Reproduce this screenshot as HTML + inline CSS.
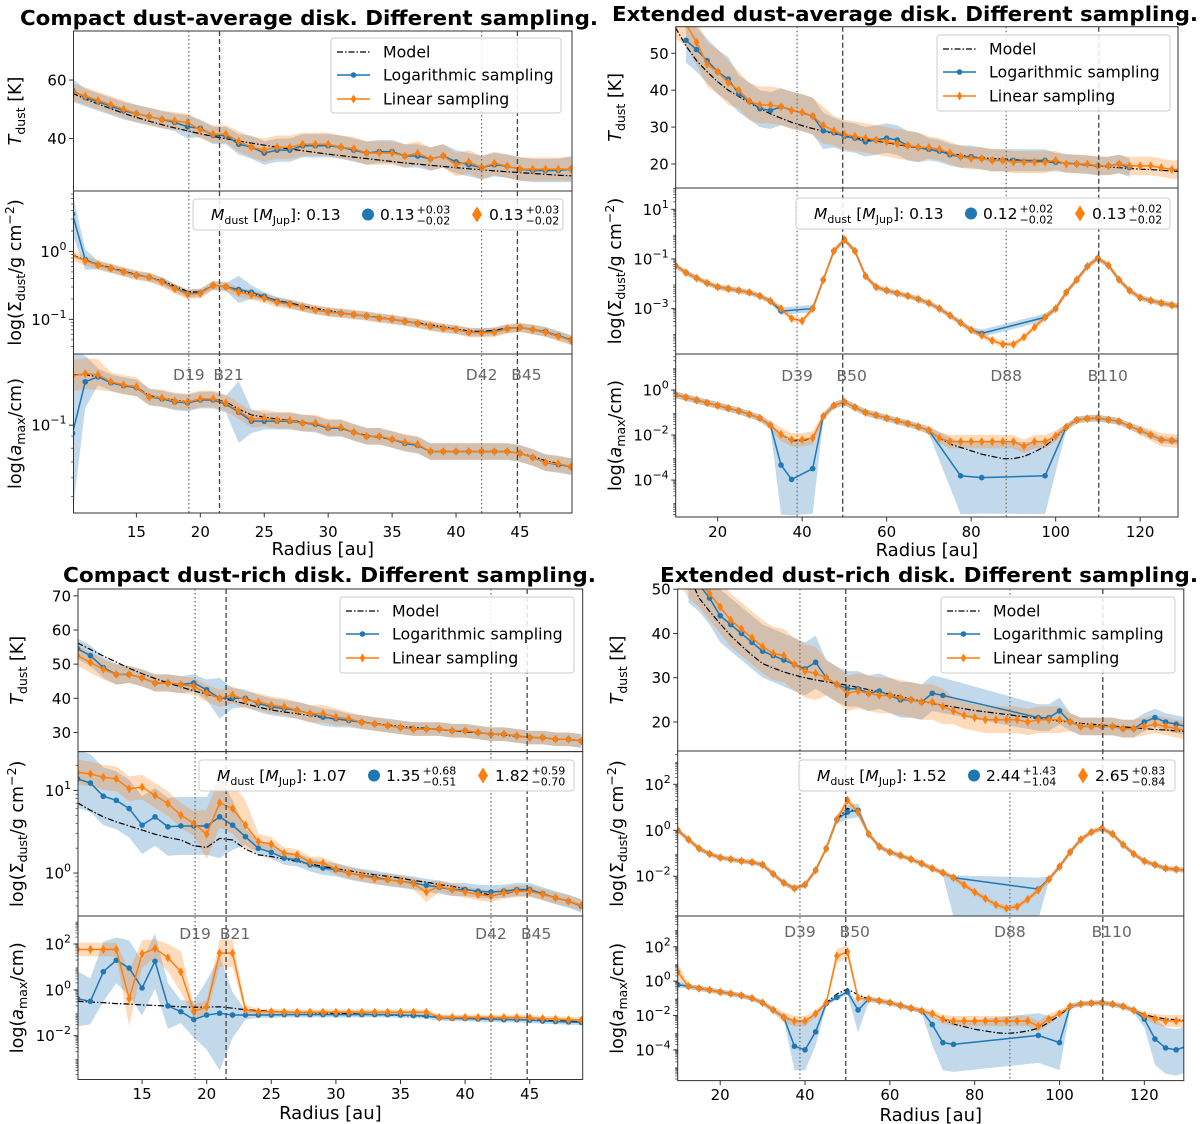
<!DOCTYPE html>
<html>
<head>
<meta charset="utf-8">
<style>
body{margin:0;background:#fff;}
svg{display:block;font-family:"DejaVu Sans","Liberation Sans",sans-serif;}
</style>
</head>
<body>
<svg id="fig" width="1200" height="1124" viewBox="0 0 1200 1124" xmlns="http://www.w3.org/2000/svg">
<rect x="0" y="0" width="1200" height="1124" fill="#fff"/>
</svg>
<script>
// ---------------- DATA ----------------
const compactR = [10,11,12,13,14,15,16,17,18,19,20,21,22,23,24,25,26,27,28,29,30,31,32,33,34,35,36,37,38,39,40,41,42,43,44,45,46,47,48,49];
const extendedR = [10,12.5,15,17.5,20,22.5,25,27.5,30,32.5,35,37.5,40,42.5,45,47.5,50,52.5,55,57.5,60,62.5,65,67.5,70,72.5,75,77.5,80,82.5,85,87.5,90,92.5,95,97.5,100,102.5,105,107.5,110,112.5,115,117.5,120,122.5,125,127.5,130];
const compactRings = [19.1,21.5,42.0,44.8];
const compactRingNames = ["D19","B21","D42","B45"];
const extendedRings = [38.8,49.6,88.3,110.2];
const extendedRingNames = ["D39","B50","D88","B110"];
const compactXTicks = [15,20,25,30,35,40,45];
const extendedXTicks = [20,40,60,80,100,120];

// ---- Top-left: compact dust-average ----
const tlTModel = [55.5,53.5,51.8,50.2,48.6,47.2,45.9,44.7,43.6,42.6,41.6,40.7,39.9,39.1,38.4,37.7,37.0,36.4,35.8,35.2,34.6,34.1,33.6,33.1,32.6,32.1,31.6,31.2,30.8,30.4,30.0,29.6,29.3,28.9,28.6,28.3,28.0,27.7,27.4,27.2];
const tlTLog = [56.5,54,52.5,51,49.5,48.5,47.5,46.5,45.5,44,43.5,41,41,38,37,35,36,36,37.5,37.5,37.5,37,36,35,35.5,35.5,34,34,33,34,32,31,30,31,30.5,29.5,29,29,29,29.5];
const tlTLin = [56,54.5,53,51.5,50,48.5,47.5,46.5,46,45.5,43,41.5,41.5,39,37,36,37,37,38,38,38,37,36.5,35,35,35,34,35,33,34,31,32,30,31.5,30.5,29.5,29.5,29.5,29.5,29.5];
const tlTErrLog = [4,3,3,3,3,3,3,3,3,4,3,3,3,3.5,4,4,4,4,4,4,4,4,4,4,4,4,4,4,4,4,4,4,4,4,4,4,4,4,4,4.5];
const tlTErrLin = [3,3,3,3,3,3,3,3,3,3,3,3,3,3.5,3.5,4,4,4,4,4,4,4,4,4,4,4,4,4,4,4,4,4,4,4,4,4,4,4,4,4];
const tlSModel = [-0.05,-0.13,-0.19,-0.24,-0.29,-0.34,-0.38,-0.43,-0.51,-0.59,-0.6,-0.5,-0.52,-0.57,-0.62,-0.67,-0.72,-0.76,-0.8,-0.84,-0.87,-0.9,-0.93,-0.95,-0.97,-1.0,-1.03,-1.05,-1.08,-1.11,-1.14,-1.17,-1.18,-1.16,-1.13,-1.12,-1.15,-1.2,-1.25,-1.3];
const tlSLog = [0.55,-0.12,-0.2,-0.25,-0.3,-0.35,-0.38,-0.44,-0.54,-0.62,-0.61,-0.5,-0.52,-0.56,-0.6,-0.66,-0.73,-0.77,-0.82,-0.86,-0.89,-0.91,-0.93,-0.95,-0.98,-1.0,-1.03,-1.06,-1.1,-1.13,-1.15,-1.19,-1.19,-1.18,-1.14,-1.12,-1.15,-1.18,-1.24,-1.3];
const tlSLin = [-0.06,-0.14,-0.2,-0.25,-0.3,-0.35,-0.38,-0.45,-0.55,-0.63,-0.62,-0.5,-0.52,-0.6,-0.64,-0.69,-0.75,-0.78,-0.82,-0.86,-0.89,-0.91,-0.93,-0.95,-0.98,-1.0,-1.03,-1.06,-1.1,-1.13,-1.15,-1.19,-1.2,-1.19,-1.14,-1.12,-1.15,-1.19,-1.25,-1.31];
const tlSErrLog = [0.3,0.15,0.06,0.06,0.06,0.06,0.06,0.06,0.06,0.06,0.06,0.06,0.06,0.2,0.1,0.06,0.06,0.06,0.06,0.06,0.06,0.06,0.06,0.06,0.06,0.06,0.06,0.06,0.06,0.06,0.06,0.06,0.06,0.06,0.06,0.06,0.07,0.07,0.07,0.07];
const tlSErrLin = [0.07,0.07,0.07,0.07,0.07,0.07,0.07,0.07,0.07,0.07,0.07,0.07,0.07,0.07,0.07,0.07,0.07,0.07,0.07,0.07,0.07,0.07,0.07,0.07,0.07,0.07,0.07,0.07,0.07,0.07,0.07,0.07,0.07,0.07,0.07,0.07,0.07,0.07,0.07,0.07];
const tlAModel = [-0.787,-0.787,-0.796,-0.817,-0.830,-0.838,-0.876,-0.885,-0.894,-0.902,-0.894,-0.889,-0.902,-0.932,-0.957,-0.966,-0.974,-0.979,-0.987,-0.996,-1.009,-1.013,-1.030,-1.043,-1.051,-1.060,-1.072,-1.085,-1.111,-1.111,-1.111,-1.111,-1.111,-1.111,-1.111,-1.119,-1.132,-1.149,-1.162,-1.175];
const tlALog = [-1.034,-0.817,-0.796,-0.821,-0.834,-0.842,-0.881,-0.889,-0.902,-0.906,-0.894,-0.894,-0.911,-0.945,-0.983,-0.983,-0.983,-0.983,-0.991,-0.996,-1.013,-1.013,-1.030,-1.047,-1.047,-1.060,-1.077,-1.085,-1.111,-1.111,-1.111,-1.111,-1.111,-1.111,-1.111,-1.119,-1.136,-1.158,-1.166,-1.175];
const tlALin = [-0.791,-0.783,-0.787,-0.817,-0.830,-0.838,-0.881,-0.885,-0.898,-0.902,-0.889,-0.889,-0.906,-0.940,-0.974,-0.970,-0.979,-0.979,-0.991,-0.991,-1.009,-1.009,-1.030,-1.047,-1.047,-1.060,-1.072,-1.081,-1.111,-1.111,-1.111,-1.111,-1.111,-1.111,-1.111,-1.119,-1.136,-1.158,-1.162,-1.175];
const tlAErrLog = [0.34,0.11,0.035,0.035,0.035,0.035,0.035,0.035,0.035,0.035,0.035,0.035,0.035,0.13,0.05,0.035,0.035,0.035,0.035,0.035,0.035,0.035,0.035,0.035,0.035,0.035,0.035,0.035,0.035,0.035,0.035,0.035,0.035,0.035,0.035,0.035,0.035,0.035,0.035,0.035];
const tlAErrLin = [0.065,0.065,0.065,0.04,0.04,0.04,0.035,0.035,0.035,0.035,0.035,0.035,0.035,0.035,0.035,0.035,0.035,0.035,0.035,0.035,0.035,0.035,0.035,0.035,0.035,0.035,0.035,0.035,0.035,0.035,0.035,0.035,0.035,0.035,0.035,0.035,0.035,0.035,0.035,0.035];

// ---- Top-right: extended dust-average ----
const trTModel = [57,52,48,45,42.3,40,38.3,36.6,35,33.6,32.4,31.3,30.4,29.6,28.9,28.2,27.6,27.1,26.6,26.2,25.8,25.3,24.8,24.4,23.9,23.4,22.9,22.4,21.9,21.7,21.5,21.4,21.2,21,20.8,20.6,20.5,20.2,20,19.7,19.5,19.2,19,18.8,18.6,18.5,18.3,18.1,18];
const trTLog = [null,53.5,51,48,45,43,39,37,35,34.5,35.5,null,null,33,29,28.5,27.5,27,26,26.5,27,26.5,25,24.5,24,23.5,22.5,22,22,21.5,21,21,21,null,null,21,20.5,null,20,null,19.5,19.5,20,19,null,null,null,null,null];
const trTLin = [60,58,53,47,45,42,40,37,36,36,35.5,34.5,34,33,30.5,29,28,27.5,27,26.5,26,25.5,25,24.5,24.5,24,23,22,21.5,21.5,21,21,20.5,20.5,20.5,20.5,21,20,20,20,19.5,19.5,20,19.5,19.5,19.5,19,18.5,18.5];
const trTErrLog = [6,6,6,6,6,6,5,5,5,5,5,5,5,5,5,4,4,4,4,4,4,4,4,4,3,3,3,3,3,3,3,3,3,3,3,3,2.5,2.5,2.5,2.5,2.5,2.5,2.5,2.5,2.5,2.5,2.5,2.5,2.5];
const trTErrLin = [6,6,6,6,6,6,5,5,5,5,5,5,5,5,5,4,4,4,4,4,4,4,4,4,3,3,3,3,3,3,3,3,3,3,3,3,2.5,2.5,2.5,2.5,2.5,2.5,2.5,2.5,2.5,2.5,2.5,2.5,2.5];
const trSModel = [-1.26,-1.55,-1.77,-1.97,-2.13,-2.2,-2.27,-2.35,-2.49,-2.7,-3.0,-3.4,-3.5,-3.0,-1.84,-0.68,-0.22,-0.68,-1.69,-2.13,-2.27,-2.38,-2.49,-2.62,-2.78,-3.0,-3.28,-3.57,-3.86,-4.08,-4.29,-4.44,-4.44,-4.15,-3.75,-3.35,-3.0,-2.35,-1.84,-1.3,-0.97,-1.26,-1.84,-2.27,-2.56,-2.68,-2.78,-2.86,-2.93];
const trSLog = [-1.26,-1.55,-1.77,-1.97,-2.13,-2.2,-2.27,-2.35,-2.49,-2.7,-3.1,null,null,-3.0,-1.84,-0.68,-0.22,-0.68,-1.69,-2.13,-2.27,-2.38,-2.49,-2.62,-2.78,-3.0,-3.28,-3.57,-3.86,-4.0,null,null,null,null,null,-3.35,-3.0,-2.35,-1.84,-1.3,-0.97,-1.26,-1.84,-2.27,-2.56,-2.68,-2.78,-2.86,-2.93];
const trSLin = [-1.26,-1.55,-1.77,-1.97,-2.13,-2.2,-2.27,-2.35,-2.49,-2.7,-3.0,-3.4,-3.5,-3.0,-1.84,-0.68,-0.22,-0.68,-1.69,-2.13,-2.27,-2.38,-2.49,-2.62,-2.78,-3.0,-3.28,-3.57,-3.86,-4.08,-4.29,-4.44,-4.44,-4.15,-3.75,-3.35,-3.0,-2.35,-1.84,-1.3,-0.97,-1.26,-1.84,-2.27,-2.56,-2.68,-2.78,-2.86,-2.93];
const trSErrLog = [0.1,0.1,0.1,0.1,0.1,0.1,0.1,0.1,0.1,0.1,0.15,0.15,0.15,0.15,0.1,0.1,0.1,0.1,0.1,0.1,0.1,0.1,0.1,0.1,0.1,0.1,0.1,0.1,0.12,0.15,0.15,0.15,0.15,0.15,0.15,0.15,0.1,0.1,0.1,0.1,0.1,0.1,0.1,0.1,0.1,0.1,0.1,0.1,0.1];
const trSErrLin = [0.12,0.12,0.12,0.12,0.12,0.12,0.12,0.12,0.12,0.12,0.12,0.12,0.12,0.12,0.12,0.12,0.12,0.12,0.12,0.12,0.12,0.12,0.12,0.12,0.12,0.12,0.12,0.12,0.12,0.12,0.12,0.12,0.12,0.12,0.12,0.12,0.12,0.12,0.12,0.12,0.12,0.12,0.12,0.12,0.12,0.12,0.12,0.12,0.12];
const trAModel = [-0.21,-0.33,-0.45,-0.57,-0.69,-0.81,-0.93,-1.08,-1.25,-1.57,-1.97,-2.25,-2.25,-2.13,-1.17,-0.69,-0.53,-0.77,-1.0,-1.12,-1.25,-1.37,-1.49,-1.63,-1.8,-2.13,-2.4,-2.55,-2.7,-2.85,-2.95,-3.05,-3.05,-2.95,-2.75,-2.5,-2.1,-1.65,-1.33,-1.27,-1.25,-1.32,-1.4,-1.6,-1.8,-2.0,-2.21,-2.25,-2.29];
const trALog = [-0.21,-0.33,-0.45,-0.57,-0.69,-0.81,-0.93,-1.08,-1.25,-1.57,-3.33,-3.97,null,-3.49,-1.17,-0.69,-0.53,-0.77,-1.0,-1.12,-1.25,-1.37,-1.49,-1.63,-1.8,null,null,-3.81,null,-3.89,null,null,null,null,null,-3.81,null,-1.65,-1.33,-1.27,-1.25,-1.32,-1.4,-1.6,-1.8,-2.0,-2.21,-2.25,-2.29];
const trALin = [-0.21,-0.33,-0.45,-0.57,-0.69,-0.81,-0.93,-1.08,-1.25,-1.57,-1.97,-2.21,-2.21,-2.13,-1.17,-0.69,-0.53,-0.77,-1.0,-1.12,-1.25,-1.37,-1.49,-1.63,-1.8,-2.13,-2.29,-2.29,-2.29,-2.29,-2.29,-2.29,-2.29,-2.5,-2.29,-2.29,-2.05,-1.65,-1.33,-1.27,-1.25,-1.32,-1.4,-1.6,-1.8,-2.0,-2.21,-2.25,-2.29];
const trAErrLog = [0.15,0.15,0.15,0.15,0.15,0.15,0.15,0.15,0.15,0.15,2.2,1.6,0.15,2.0,0.15,0.15,0.15,0.15,0.15,0.15,0.15,0.15,0.15,0.15,0.15,0.15,0.15,1.7,0.15,1.6,0.15,0.15,0.15,0.15,0.15,1.7,0.15,0.15,0.15,0.15,0.15,0.15,0.15,0.15,0.15,0.15,0.15,0.15,0.15];
const trAErrLogHi = [0.15,0.15,0.15,0.15,0.15,0.15,0.15,0.15,0.15,0.15,1.3,1.7,0.15,1.3,0.15,0.15,0.15,0.15,0.15,0.15,0.15,0.15,0.15,0.15,0.15,0.15,0.15,1.5,0.15,1.6,0.15,0.15,0.15,0.15,0.15,1.5,0.15,0.15,0.15,0.15,0.15,0.15,0.15,0.15,0.15,0.15,0.15,0.15,0.15];
const trAErrLin = [0.15,0.15,0.15,0.15,0.15,0.15,0.15,0.15,0.15,0.2,0.3,0.3,0.3,0.3,0.15,0.15,0.15,0.15,0.15,0.15,0.15,0.15,0.15,0.15,0.2,0.25,0.3,0.3,0.3,0.3,0.3,0.3,0.3,0.3,0.3,0.3,0.25,0.15,0.15,0.15,0.15,0.15,0.15,0.15,0.2,0.25,0.3,0.3,0.3];

// ---- Bottom-left: compact dust-rich ----
const blTModel = [56.2,54.3,52.4,50.6,48.8,47.2,45.8,44.5,43.3,42.2,41.2,40.2,39.3,38.4,37.4,36.6,36,35.5,34.9,34.4,33.9,33.5,33.1,32.6,32.2,31.8,31.5,31.2,30.8,30.5,30.2,29.9,29.6,29.2,28.9,28.6,28.4,28.1,27.9,27.6];
const blTLog = [54.5,52.5,49,47,47,46,44.5,44.5,44,44.5,42.5,40,40,40,38.5,37.5,37,36.5,35.5,34.5,34,33.5,33,32.5,32,31.5,31,31,31,30.5,30.5,30,29.5,29.5,29,28.5,28.5,28,28,27.5];
const blTLin = [52.5,50.5,48.5,47,47,46,44.5,44.5,44,43.5,41.5,40,41,39.5,39,38,37.5,36.5,35.5,35.5,34.5,34,33,32.5,32,31.5,31,31,31,30.5,30.5,30,29.5,29.5,29,28.5,28.5,28,28,27.5];
const blTErrLog = [3,3,3,3,2.5,2.5,2.5,2.5,2.5,2.5,3,6,3,2.5,2.5,2.5,2.5,2.5,2.5,2.5,2.5,2,2,2,2,2,2,2,2,2,2,2,2,2,2,2,2,2,2,2];
const blTErrLin = [3,3,3,3,2.5,2.5,2.5,2.5,2.5,2.5,2.5,2.5,2.5,2.5,2.5,2.5,2.5,2.5,2.5,2.5,2.5,2,2,2,2,2,2,2,2,2,2,2,2,2,2,2,2,2,2,2];
const blSModel = [0.85,0.76,0.68,0.62,0.57,0.52,0.47,0.43,0.4,0.33,0.31,0.42,0.4,0.29,0.22,0.2,0.17,0.14,0.11,0.08,0.05,0.03,0.0,-0.02,-0.04,-0.06,-0.09,-0.11,-0.14,-0.16,-0.19,-0.23,-0.27,-0.25,-0.22,-0.21,-0.25,-0.3,-0.34,-0.39];
const blSLog = [1.14,1.09,0.93,0.88,0.78,0.58,0.68,0.56,0.57,0.57,0.57,0.68,0.58,0.44,0.3,0.25,0.18,0.16,0.1,0.06,0.04,0.0,-0.03,-0.05,-0.08,-0.1,-0.12,-0.15,-0.17,-0.2,-0.2,-0.22,-0.23,-0.22,-0.2,-0.2,-0.25,-0.3,-0.34,-0.4];
const blSLin = [1.22,1.2,1.16,1.14,1.02,1.04,0.94,0.84,0.7,0.6,0.47,0.85,0.78,0.58,0.38,0.35,0.24,0.22,0.13,0.12,0.05,0.0,-0.03,-0.07,-0.08,-0.1,-0.13,-0.23,-0.16,-0.2,-0.23,-0.26,-0.28,-0.24,-0.22,-0.22,-0.26,-0.3,-0.34,-0.39];
const blSErrLog = [0.35,0.35,0.35,0.35,0.35,0.35,0.35,0.35,0.35,0.35,0.35,0.5,0.3,0.1,0.08,0.08,0.08,0.08,0.08,0.08,0.08,0.08,0.08,0.08,0.08,0.08,0.08,0.08,0.08,0.08,0.08,0.08,0.08,0.08,0.08,0.08,0.08,0.08,0.08,0.08];
const blSErrLin = [0.15,0.15,0.15,0.15,0.15,0.15,0.15,0.15,0.15,0.15,0.3,0.3,0.3,0.3,0.1,0.08,0.07,0.07,0.07,0.07,0.07,0.07,0.07,0.07,0.07,0.07,0.07,0.12,0.07,0.07,0.07,0.07,0.07,0.07,0.07,0.07,0.07,0.07,0.07,0.07];
const blAModel = [-0.5,-0.53,-0.56,-0.6,-0.62,-0.66,-0.68,-0.71,-0.74,-0.76,-0.75,-0.74,-0.8,-0.87,-0.9,-0.94,-0.96,-0.98,-1.0,-1.01,-1.02,-1.04,-1.06,-1.08,-1.1,-1.12,-1.14,-1.16,-1.19,-1.21,-1.23,-1.25,-1.27,-1.28,-1.3,-1.31,-1.33,-1.35,-1.37,-1.39];
const blALog = [-0.39,-0.5,0.79,1.29,0.95,0.08,1.25,-0.7,-0.95,-1.29,-1.1,-1.02,-1.1,-1.1,-1.1,-1.1,-1.08,-1.08,-1.08,-1.08,-1.08,-1.08,-1.08,-1.08,-1.08,-1.1,-1.12,-1.14,-1.22,-1.24,-1.25,-1.27,-1.28,-1.3,-1.3,-1.32,-1.36,-1.38,-1.4,-1.42];
const blALin = [1.76,1.76,1.76,1.76,-0.39,1.57,1.8,1.4,0.79,-0.94,-0.75,1.6,1.6,-0.88,-0.95,-0.95,-0.97,-0.97,-0.97,-0.97,-0.97,-0.97,-0.97,-0.97,-0.97,-0.97,-0.97,-0.97,-1.2,-1.2,-1.2,-1.2,-1.2,-1.2,-1.2,-1.22,-1.25,-1.27,-1.3,-1.32];
const blAErrLog = [1.2,1.0,1.3,1.0,1.2,1.2,1.2,1.0,0.5,0.8,1.5,2.5,1.0,0.2,0.12,0.12,0.12,0.12,0.12,0.12,0.12,0.12,0.12,0.12,0.12,0.12,0.12,0.12,0.12,0.12,0.12,0.12,0.12,0.12,0.12,0.12,0.12,0.12,0.12,0.12];
const blAErrLin = [0.3,0.3,0.3,0.3,1.2,0.6,0.4,0.6,0.9,0.3,0.3,0.6,0.6,0.2,0.12,0.12,0.12,0.12,0.12,0.12,0.12,0.12,0.12,0.12,0.12,0.12,0.12,0.12,0.12,0.12,0.12,0.12,0.12,0.12,0.12,0.12,0.12,0.12,0.12,0.12];

// ---- Bottom-right: extended dust-rich ----
const brTModel = [60,53.5,48,45,42.2,39.5,37.2,35.1,33.2,32.2,31.3,30.6,30,29.5,29.1,28.7,28.3,27.8,27.3,26.8,26.3,25.8,25.2,24.7,24.2,23.8,23.4,23,22.6,22.3,22,21.7,21.4,21.1,20.8,20.5,20.2,20,19.7,19.5,19.3,19.1,18.9,18.7,18.5,18.3,18.2,18,17.9];
const brTLog = [null,53,51,48,44,42,40,38,36,35,34,33,32,33.5,30,28.5,27.5,27.5,26.5,27,26,25,25,24.5,26.5,26,null,null,null,null,null,null,null,null,21,21,22.5,20,19,19,19,19,18.5,18.5,20,21,20,19.5,19];
const brTLin = [58,54,52,49,46,43,41,39,37,35.5,35,33,31.5,31,30,28.5,26.5,27,26.5,26,26,25.5,25,24.5,24.5,23.5,22.5,21.5,21,20.5,20.5,20.5,20.5,20,20.5,20.5,20.5,20,19,19,19,19,18.5,18.5,19,19.5,19,18.5,18];
const brTErrLog = [6,6,6,6,6,6,6,6,6,6,6,6,6,6,4,4,4,4,4,4,4,4,4,4,4,4,3,3,3,3,3,3,3,3,3,3,3,2,2,2,2,2,2,2,2,2,2,2,2];
const brTErrLin = [6,6,6,6,6,6,6,6,6,6,6,6,6,6,4,4,4,4,4,4,4,4,4,4,4,4,3,3,3,3,3,3,3,3,3,3,3,2,2,2,2,2,2,2,2,2,2,2,2];
const brSModel = [0,-0.4,-0.79,-1.03,-1.19,-1.26,-1.34,-1.39,-1.5,-1.9,-2.29,-2.53,-2.37,-1.74,-0.79,0.47,0.95,0.79,-0.16,-0.71,-0.95,-1.1,-1.26,-1.45,-1.66,-1.85,-2.06,-2.38,-2.69,-2.97,-3.24,-3.4,-3.32,-3.0,-2.61,-2.13,-1.58,-0.95,-0.4,-0.08,0.08,-0.16,-0.63,-1.03,-1.34,-1.5,-1.66,-1.7,-1.74];
const brSLog = [0,-0.4,-0.79,-1.03,-1.19,-1.26,-1.34,-1.39,-1.5,-1.9,-2.29,-2.53,-2.37,-1.74,-0.79,0.47,0.79,0.87,-0.16,-0.71,-0.95,-1.1,-1.26,-1.45,-1.66,-1.85,-2.06,null,null,null,null,null,null,null,-2.56,-2.13,-1.58,-0.95,-0.4,-0.08,0.08,-0.16,-0.63,-1.03,-1.34,-1.5,-1.66,-1.7,-1.74];
const brSLin = [0,-0.4,-0.79,-1.03,-1.19,-1.26,-1.34,-1.39,-1.5,-1.9,-2.29,-2.53,-2.37,-1.74,-0.79,0.47,1.3,0.79,-0.16,-0.71,-0.95,-1.1,-1.26,-1.45,-1.66,-1.85,-2.06,-2.38,-2.69,-2.97,-3.24,-3.4,-3.32,-3.0,-2.61,-2.13,-1.58,-0.95,-0.4,-0.08,0.08,-0.16,-0.63,-1.03,-1.34,-1.5,-1.66,-1.7,-1.74];
const brSErrLog = [0.1,0.1,0.1,0.1,0.1,0.1,0.1,0.1,0.1,0.1,0.1,0.1,0.1,0.1,0.1,0.2,0.3,0.3,0.1,0.1,0.1,0.1,0.1,0.1,0.1,0.1,1.7,0.1,0.1,0.1,0.1,0.1,0.1,0.1,1.3,0.1,0.1,0.1,0.1,0.1,0.1,0.1,0.1,0.1,0.1,0.1,0.1,0.1,0.1];
const brSErrLogHi = [0.1,0.1,0.1,0.1,0.1,0.1,0.1,0.1,0.1,0.1,0.1,0.1,0.1,0.1,0.1,0.2,0.3,0.3,0.1,0.1,0.1,0.1,0.1,0.1,0.1,0.1,0.1,0.1,0.1,0.1,0.1,0.1,0.1,0.1,0.5,0.1,0.1,0.1,0.1,0.1,0.1,0.1,0.1,0.1,0.1,0.1,0.1,0.1,0.1];
const brSErrLin = [0.12,0.12,0.12,0.12,0.12,0.12,0.12,0.12,0.12,0.12,0.12,0.12,0.12,0.12,0.12,0.15,0.2,0.15,0.12,0.12,0.12,0.12,0.12,0.12,0.12,0.12,0.12,0.12,0.12,0.12,0.12,0.12,0.12,0.12,0.12,0.12,0.12,0.12,0.12,0.12,0.12,0.12,0.12,0.12,0.12,0.12,0.12,0.12,0.12];
const brAModel = [-0.21,-0.3,-0.42,-0.52,-0.63,-0.73,-0.84,-1.0,-1.26,-1.68,-2.1,-2.32,-2.32,-1.89,-1.26,-0.75,-0.45,-0.8,-1.05,-1.15,-1.26,-1.42,-1.58,-1.73,-1.89,-2.21,-2.5,-2.65,-2.8,-2.9,-3.0,-3.05,-3.0,-2.9,-2.75,-2.4,-2.0,-1.47,-1.33,-1.28,-1.26,-1.35,-1.47,-1.7,-1.95,-2.1,-2.2,-2.25,-2.3];
const brALog = [-0.21,-0.3,-0.42,-0.52,-0.63,-0.73,-0.84,-1.0,-1.26,-1.68,-2.1,-3.79,-4.0,-2.95,-1.3,-0.95,-0.63,-1.68,-1.05,-1.15,-1.26,-1.42,-1.58,-1.73,-2.53,-3.58,-3.68,null,null,null,null,null,null,null,-3.16,null,-3.58,-1.47,-1.33,-1.28,-1.26,-1.35,-1.47,-1.7,-2.21,-3.37,-3.89,-4.0,-3.79];
const brALin = [0.53,-0.3,-0.42,-0.52,-0.63,-0.73,-0.84,-1.0,-1.26,-1.68,-2.1,-2.32,-2.32,-1.89,-1.26,1.47,1.7,-1.0,-1.05,-1.15,-1.26,-1.42,-1.58,-1.73,-1.89,-2.21,-2.32,-2.32,-2.32,-2.32,-2.32,-2.32,-2.32,-2.32,-2.63,-2.21,-1.89,-1.47,-1.33,-1.28,-1.26,-1.35,-1.47,-1.7,-2.0,-2.2,-2.32,-2.32,-2.32];
const brAErrLog = [0.15,0.15,0.15,0.15,0.15,0.15,0.15,0.15,0.15,0.15,0.15,1.4,1.2,0.8,0.15,0.15,0.15,1.3,0.15,0.15,0.15,0.15,0.15,0.15,1.2,1.6,1.6,0.15,0.15,0.15,0.15,0.15,0.15,0.15,1.6,0.15,1.6,0.15,0.15,0.15,0.15,0.15,0.15,0.15,0.5,1.5,1.5,1.5,1.5];
const brAErrLogHi = [0.15,0.15,0.15,0.15,0.15,0.15,0.15,0.15,0.15,0.15,0.15,1.5,1.7,1.0,0.15,0.15,0.15,0.4,0.15,0.15,0.15,0.15,0.15,0.15,0.5,1.3,1.3,0.15,0.15,0.15,0.15,0.15,0.15,0.15,1.3,0.15,1.4,0.15,0.15,0.15,0.15,0.15,0.15,0.15,0.3,1.2,1.2,1.2,1.2];
const brAErrLin = [0.5,0.15,0.15,0.15,0.15,0.15,0.15,0.15,0.15,0.2,0.3,0.3,0.3,0.2,0.15,0.4,0.4,0.15,0.15,0.15,0.15,0.15,0.15,0.15,0.2,0.25,0.3,0.3,0.3,0.3,0.3,0.3,0.3,0.3,0.3,0.3,0.2,0.15,0.15,0.15,0.15,0.15,0.15,0.15,0.2,0.3,0.35,0.35,0.35];

// mass legend values
const tlMass = ["0.13","0.13","+0.03","−0.02","0.13","+0.03","−0.02"];
const trMass = ["0.13","0.12","+0.02","−0.02","0.13","+0.02","−0.02"];
const blMass = ["1.07","1.35","+0.68","−0.51","1.82","+0.59","−0.70"];
const brMass = ["1.52","2.44","+1.43","−1.04","2.65","+0.83","−0.84"];

// ---------------- LAYOUT ----------------
const BLUE = "#1f77b4", ORANGE = "#ff7f0e";
const PANELS = [
 {key:"tl", title:"Compact dust-average disk. Different sampling.", tx:20, ty:25, tw:578,
  left:73.5, right:572, xDom:[10.08,49.07], X:compactR, xTicks:compactXTicks,
  rings:compactRings, ringNames:compactRingNames, ringLabelY:380, tickLabelY:537, xLabelY:555, yLabelX:21,
  legend:[331,38,230,75], mass:[193,199,370,31], massVals:tlMass,
  rows:[
   {top:31,bot:191,dom:[22,76.8],log:false,ticks:[40,60],kind:"T",m:tlTModel,b:tlTLog,o:tlTLin,eb:tlTErrLog,o_e:tlTErrLin},
   {top:191,bot:354,dom:[-1.51,0.89],log:true,ticks:[-1,0],kind:"S",m:tlSModel,b:tlSLog,o:tlSLin,eb:tlSErrLog,o_e:tlSErrLin},
   {top:354,bot:513,dom:[-1.37,-0.70],log:true,ticks:[-1],kind:"A",m:tlAModel,b:tlALog,o:tlALin,eb:tlAErrLog,o_e:tlAErrLin}
  ]},
 {key:"tr", title:"Extended dust-average disk. Different sampling.", tx:612, ty:21, tw:586,
  left:675.7, right:1178, xDom:[10.07,128.96], X:extendedR, xTicks:extendedXTicks,
  rings:extendedRings, ringNames:extendedRingNames, ringLabelY:381, tickLabelY:537, xLabelY:556, yLabelX:621,
  legend:[937,35,233,76], mass:[796,198,374,31], massVals:trMass,
  rows:[
   {top:26.7,bot:188,dom:[13.5,57.2],log:false,ticks:[20,30,40,50],kind:"T",m:trTModel,b:trTLog,o:trTLin,eb:trTErrLog,o_e:trTErrLin},
   {top:188,bot:354,dom:[-4.83,1.86],log:true,ticks:[-3,-1,1],kind:"S",m:trSModel,b:trSLog,o:trSLin,eb:trSErrLog,o_e:trSErrLin},
   {top:354,bot:517,dom:[-5.64,1.6],log:true,ticks:[-4,-2,0],kind:"A",m:trAModel,b:trALog,o:trALin,eb:trAErrLog,ebh:trAErrLogHi,o_e:trAErrLin}
  ]},
 {key:"bl", title:"Compact dust-rich disk. Different sampling.", tx:63, ty:582, tw:533,
  left:78, right:582.7, xDom:[10.04,49.1], X:compactR, xTicks:compactXTicks,
  rings:compactRings, ringNames:compactRingNames, ringLabelY:939, tickLabelY:1099, xLabelY:1119, yLabelX:23,
  legend:[340,597,234,76], mass:[199,760,375,31], massVals:blMass,
  rows:[
   {top:589,bot:751.6,dom:[24.4,72],log:false,ticks:[30,40,50,60,70],kind:"T",m:blTModel,b:blTLog,o:blTLin,eb:blTErrLog,o_e:blTErrLin},
   {top:751.6,bot:916,dom:[-0.52,1.47],log:true,ticks:[0,1],kind:"S",m:blSModel,b:blSLog,o:blSLin,eb:blSErrLog,o_e:blSErrLin},
   {top:916,bot:1079.5,dom:[-3.91,3.22],log:true,ticks:[-2,0,2],kind:"A",m:blAModel,b:blALog,o:blALin,eb:blAErrLog,o_e:blAErrLin}
  ]},
 {key:"br", title:"Extended dust-rich disk. Different sampling.", tx:660, ty:582, tw:538,
  left:677.7, right:1183.8, xDom:[9.98,129.3], X:extendedR, xTicks:extendedXTicks,
  rings:extendedRings, ringNames:extendedRingNames, ringLabelY:937, tickLabelY:1100, xLabelY:1121, yLabelX:623,
  legend:[941,597,234,76], mass:[799,760,376,31], massVals:brMass,
  rows:[
   {top:589,bot:751,dom:[13.45,50.05],log:false,ticks:[20,30,40,50],kind:"T",m:brTModel,b:brTLog,o:brTLin,eb:brTErrLog,o_e:brTErrLin},
   {top:751,bot:916,dom:[-3.73,3.45],log:true,ticks:[-2,0,2],kind:"S",m:brSModel,b:brSLog,o:brSLin,eb:brSErrLog,ebh:brSErrLogHi,o_e:brSErrLin},
   {top:916,bot:1080.6,dom:[-5.79,3.79],log:true,ticks:[-4,-2,0,2],kind:"A",m:brAModel,b:brALog,o:brALin,eb:brAErrLog,ebh:brAErrLogHi,o_e:brAErrLin}
  ]}
];

// ---------------- DRAWING ----------------
const NS = "http://www.w3.org/2000/svg";
const fig = document.getElementById("fig");
function mk(tag, attrs, parent){
  const e = document.createElementNS(NS, tag);
  for (const k in attrs) e.setAttribute(k, attrs[k]);
  (parent || fig).appendChild(e);
  return e;
}
function lin(d0,d1,p0,p1){ return v => p0 + (v-d0)/(d1-d0)*(p1-p0); }
function expStr(k){ return (k<0 ? "\u2212" : "") + Math.abs(k); }
let clipId = 0;

function drawPanel(P){
  const g = mk("g", {}, fig);
  
  
  const sx = lin(P.xDom[0], P.xDom[1], P.left, P.right);

  const title = mk("text", {x:P.tx, y:P.ty, "font-size":20, "font-weight":"bold", fill:"#000", textLength:P.tw, lengthAdjust:"spacingAndGlyphs"}, g);
  title.textContent = P.title;
  
  

  P.rows.forEach((R, ri) => {
    const rg = mk("g", {}, g);
    
    
    const sy = lin(R.dom[0], R.dom[1], R.bot, R.top);
    const cid = "clip" + (clipId++);
    const cp = mk("clipPath", {id:cid}, rg);
    mk("rect", {x:P.left, y:R.top, width:P.right-P.left, height:R.bot-R.top}, cp);
    const plot = mk("g", {"clip-path":"url(#"+cid+")"}, rg);

    const bandPath = (Y, lo, hi) => {
      const up = [], dn = [];
      for (let i=0;i<P.X.length;i++){
        if (Y[i]===null || Y[i]===undefined) continue;
        up.push(sx(P.X[i]).toFixed(2)+","+sy(Y[i]+hi[i]).toFixed(2));
        dn.push(sx(P.X[i]).toFixed(2)+","+sy(Y[i]-lo[i]).toFixed(2));
      }
      return "M" + up.join(" L") + " L" + dn.reverse().join(" L") + " Z";
    };
    const bb = mk("path", {d:bandPath(R.b, R.eb, R.ebh || R.eb), fill:BLUE, "fill-opacity":0.28, stroke:"none"}, plot);
    
    
    const ob = mk("path", {d:bandPath(R.o, R.o_e, R.o_e), fill:ORANGE, "fill-opacity":0.28, stroke:"none"}, plot);
    
    

    const linePath = (Y) => {
      const pts = [];
      for (let i=0;i<P.X.length;i++){
        if (Y[i]===null || Y[i]===undefined) continue;
        pts.push(sx(P.X[i]).toFixed(2)+","+sy(Y[i]).toFixed(2));
      }
      return "M" + pts.join(" L");
    };
    const ml = mk("path", {d:linePath(R.m), fill:"none", stroke:"#000", "stroke-width":1.2, "stroke-dasharray":"6,2,1.5,2"}, plot);
    
    

    const bl = mk("path", {d:linePath(R.b), fill:"none", stroke:BLUE, "stroke-width":1.5}, plot);
    
    
    for (let i=0;i<P.X.length;i++){
      if (R.b[i]===null || R.b[i]===undefined) continue;
      const c = mk("circle", {cx:sx(P.X[i]).toFixed(2), cy:sy(R.b[i]).toFixed(2), r:2.8, fill:BLUE}, plot);
      
      
    }
    const ol = mk("path", {d:linePath(R.o), fill:"none", stroke:ORANGE, "stroke-width":1.5}, plot);
    
    
    for (let i=0;i<P.X.length;i++){
      if (R.o[i]===null || R.o[i]===undefined) continue;
      const x = sx(P.X[i]), y = sy(R.o[i]);
      const d = mk("path", {d:`M${x.toFixed(2)},${(y-4.5).toFixed(2)} L${(x+2.8).toFixed(2)},${y.toFixed(2)} L${x.toFixed(2)},${(y+4.5).toFixed(2)} L${(x-2.8).toFixed(2)},${y.toFixed(2)} Z`, fill:ORANGE}, plot);
      
      
    }

    const yt = mk("g", {"font-size":15, fill:"#000"}, rg);
    
    
    if (R.log){
      for (let k=Math.floor(R.dom[0]); k<=Math.ceil(R.dom[1]); k++){
        for (let m=2;m<=9;m++){
          const v = k + Math.log10(m);
          if (v < R.dom[0] || v > R.dom[1]) continue;
          mk("line", {x1:P.left-2.5, x2:P.left, y1:sy(v), y2:sy(v), stroke:"#333", "stroke-width":0.7}, yt);
        }
      }
    }
    R.ticks.forEach(t => {
      const y = sy(t);
      mk("line", {x1:P.left-4.5, x2:P.left, y1:y, y2:y, stroke:"#333", "stroke-width":1}, yt);
      const tx = mk("text", {x:P.left-7, y:y+5.5, "text-anchor":"end"}, yt);
      
      
      if (R.log){
        const a = mk("tspan", {}, tx); a.textContent = "10";
        const b = mk("tspan", {dy:-7, "font-size":11}, tx); b.textContent = expStr(t);
      } else {
        tx.textContent = String(t);
      }
    });

    P.xTicks.forEach(t => {
      const x = sx(t);
      mk("line", {x1:x, x2:x, y1:R.bot, y2:R.bot+(ri===2?4.5:0), stroke:"#333", "stroke-width":1}, rg);
      if (ri===2){
        const tl = mk("text", {x:x, y:P.tickLabelY, "text-anchor":"middle", "font-size":15}, rg);
        tl.textContent = String(t);
        
        
      }
    });

    const fr = mk("rect", {x:P.left, y:R.top, width:P.right-P.left, height:R.bot-R.top, fill:"none", stroke:"#333", "stroke-width":1}, rg);
    
    

    const cy = (R.top + R.bot)/2;
    const yl = mk("text", {x:P.yLabelX, y:cy, "text-anchor":"middle", "font-size":17.5, transform:`rotate(-90 ${P.yLabelX} ${cy})`}, rg);
    
    
    if (R.kind==="T"){
      const a = mk("tspan", {"font-style":"italic"}, yl); a.textContent = "T";
      const b = mk("tspan", {dy:4, "font-size":12.5}, yl); b.textContent = "dust";
      const c = mk("tspan", {dy:-4}, yl); c.textContent = " [K]";
    } else if (R.kind==="S"){
      const a = mk("tspan", {}, yl); a.textContent = "log(Σ";
      const b = mk("tspan", {dy:4, "font-size":12.5}, yl); b.textContent = "dust";
      const c = mk("tspan", {dy:-4}, yl); c.textContent = "/g cm";
      const d = mk("tspan", {dy:-7, "font-size":12.5}, yl); d.textContent = "−2";
      const e = mk("tspan", {dy:7}, yl); e.textContent = ")";
    } else {
      const a = mk("tspan", {}, yl); a.textContent = "log(";
      const b = mk("tspan", {"font-style":"italic"}, yl); b.textContent = "a";
      const c = mk("tspan", {dy:4, "font-size":12.5}, yl); c.textContent = "max";
      const d = mk("tspan", {dy:-4}, yl); d.textContent = "/cm)";
    }
  });

  const top = P.rows[0].top, bot = P.rows[2].bot;
  P.rings.forEach((r, i) => {
    const x = sx(r);
    const isGap = P.ringNames[i].charAt(0) === "D";
    const ln = mk("line", {x1:x, x2:x, y1:top, y2:bot, stroke: isGap ? "#666" : "#444", "stroke-width": isGap ? 1.2 : 1.3, "stroke-dasharray": isGap ? "1.5,2.5" : "5,3"}, g);
    
    
    const lb = mk("text", {x: x + (isGap ? 0 : 9), y:P.ringLabelY, "text-anchor":"middle", "font-size":15.5, fill:"#666"}, g);
    lb.textContent = P.ringNames[i];
    
    
  });

  const xl = mk("text", {x:(P.left+P.right)/2, y:P.xLabelY, "text-anchor":"middle", "font-size":18}, g);
  xl.textContent = "Radius [au]";
  
  

  const [lx, ly, lw, lh] = P.legend;
  const lg = mk("g", {}, g);
  
  
  mk("rect", {x:lx, y:ly, width:lw, height:lh, rx:3, fill:"#fff", "fill-opacity":0.85, stroke:"#ccc", "stroke-width":1}, lg);
  const rowsY = [ly+14, ly+37, ly+61];
  const labels = ["Model", "Logarithmic sampling", "Linear sampling"];
  rowsY.forEach((y, i) => {
    const e = mk("g", {}, lg);
    
    
    if (i===0){
      mk("line", {x1:lx+6, x2:lx+39, y1:y, y2:y, stroke:"#000", "stroke-width":1.2, "stroke-dasharray":"6,2,1.5,2"}, e);
    } else if (i===1){
      mk("line", {x1:lx+6, x2:lx+39, y1:y, y2:y, stroke:BLUE, "stroke-width":1.5}, e);
      mk("circle", {cx:lx+22.5, cy:y, r:2.8, fill:BLUE}, e);
    } else {
      mk("line", {x1:lx+6, x2:lx+39, y1:y, y2:y, stroke:ORANGE, "stroke-width":1.5}, e);
      mk("path", {d:`M${lx+22.5},${y-4.5} L${lx+25.3},${y} L${lx+22.5},${y+4.5} L${lx+19.7},${y} Z`, fill:ORANGE}, e);
    }
    const t = mk("text", {x:lx+52, y:y+5.5, "font-size":15.8}, e);
    t.textContent = labels[i];
  });

  const [mx, my, mw, mh] = P.mass;
  const mg = mk("g", {}, g);
  
  
  mk("rect", {x:mx, y:my, width:mw, height:mh, rx:3, fill:"#fff", "fill-opacity":0.85, stroke:"#ccc", "stroke-width":1}, mg);
  const cy = my + mh/2;
  const V = P.massVals;
  const mt = mk("text", {x:mx+18, y:cy+5.5, "font-size":15.5}, mg);
  const t1 = mk("tspan", {"font-style":"italic"}, mt); t1.textContent = "M";
  const t2 = mk("tspan", {dy:4, "font-size":11}, mt); t2.textContent = "dust";
  const t3 = mk("tspan", {dy:-4}, mt); t3.textContent = " [";
  const t4 = mk("tspan", {"font-style":"italic"}, mt); t4.textContent = "M";
  const t5 = mk("tspan", {dy:4, "font-size":11}, mt); t5.textContent = "Jup";
  const t6 = mk("tspan", {dy:-4}, mt); t6.textContent = "]: " + V[0];
  mk("circle", {cx:mx+175, cy:cy, r:6, fill:BLUE}, mg);
  const bt = mk("text", {x:mx+187, y:cy+5.5, "font-size":15.5}, mg); bt.textContent = V[1];
  const bw = bt.getComputedTextLength() || 34;
  const bsup = mk("text", {x:mx+187+bw+2, y:cy-1, "font-size":11}, mg); bsup.textContent = V[2];
  const bsub = mk("text", {x:mx+187+bw+2, y:cy+10, "font-size":11}, mg); bsub.textContent = V[3];
  mk("path", {d:`M${mx+284},${cy-8} L${mx+289},${cy} L${mx+284},${cy+8} L${mx+279},${cy} Z`, fill:ORANGE}, mg);
  const ot = mk("text", {x:mx+296, y:cy+5.5, "font-size":15.5}, mg); ot.textContent = V[4];
  const ow = ot.getComputedTextLength() || 34;
  const osup = mk("text", {x:mx+296+ow+2, y:cy-1, "font-size":11}, mg); osup.textContent = V[5];
  const osub = mk("text", {x:mx+296+ow+2, y:cy+10, "font-size":11}, mg); osub.textContent = V[6];
}

PANELS.forEach(drawPanel);
</script>
</body>
</html>
